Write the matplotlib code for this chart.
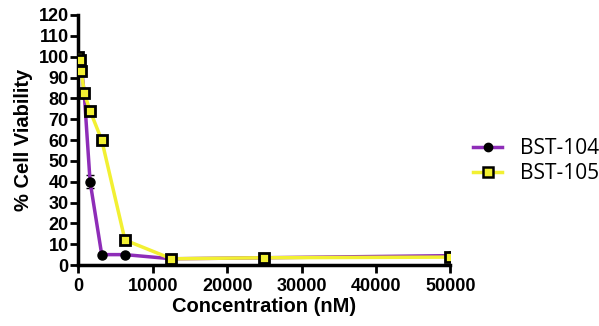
import matplotlib
matplotlib.use("Agg")
import matplotlib.pyplot as plt
from matplotlib.lines import Line2D

conc = [0, 195.3, 390.6, 781.25, 1562.5, 3125, 6250, 12500, 25000, 50000]
bst104 = [100, 99, 95, 82, 40, 5, 5, 3, 3.5, 4.5]
bst104_err = [1, 1, 1.5, 2, 3, 0.5, 0.5, 0.5, 0.5, 0.5]
bst105 = [100, 98.5, 93, 82.5, 74, 60, 12, 3, 3.5, 3.8]
bst105_err = [1, 1, 1, 1.5, 2, 1.5, 1, 0.5, 0.5, 0.5]
yticks = list(range(0, 121, 10))
xticks = [0, 10000, 20000, 30000, 40000, 50000]
labels = ["BST-104", "BST-105"]

purple = "#8E2DB8"
yellow = "#F2F032"

fig = plt.figure(figsize=(5.99, 3.26), dpi=100)
ax = fig.add_axes([0.131, 0.187, 0.621, 0.767])

ax.errorbar(conc, bst104, yerr=bst104_err, color=purple, lw=2.5,
            marker="o", ms=6.5, mfc="black", mec="black",
            ecolor="black", elinewidth=1.5, capsize=3, zorder=3)
ax.errorbar(conc, bst105, yerr=bst105_err, color=yellow, lw=2.5,
            marker="s", ms=7, mfc=yellow, mec="black", mew=2,
            ecolor="black", elinewidth=1.5, capsize=3, zorder=4)

ax.set_xlim(0, 50000)
ax.set_ylim(0, 120)
ax.set_xticks(xticks)
ax.set_yticks(yticks)
ax.spines["top"].set_visible(False)
ax.spines["right"].set_visible(False)
for s in ("left", "bottom"):
    ax.spines[s].set_linewidth(2.5)
ax.tick_params(width=2, length=6, direction="out")
for lab in ax.get_xticklabels() + ax.get_yticklabels():
    lab.set_fontweight("bold")
    lab.set_fontfamily("Liberation Sans")
    lab.set_fontsize(13)
ax.tick_params(axis="y", pad=1)
ax.tick_params(axis="x", pad=3)
ax.set_xlabel("Concentration (nM)", fontsize=14.5, fontweight="bold",
              family="Liberation Sans", labelpad=2)
ax.set_ylabel("% Cell Viability", fontsize=14.5, fontweight="bold",
              family="Liberation Sans", labelpad=4)

handles = [
    Line2D([], [], color=purple, lw=2.5, marker="o", ms=6, mfc="black", mec="black"),
    Line2D([], [], color=yellow, lw=2.5, marker="s", ms=6.5, mfc=yellow, mec="black", mew=1.8),
]
fig.legend(handles, labels, loc="center left", bbox_to_anchor=(0.79, 0.505),
           frameon=False, handlelength=1.4, labelspacing=0.2, handletextpad=0.85,
           borderpad=0, borderaxespad=0,
           prop={"family": "Open Sans", "size": 15})

fig.savefig("out.png", dpi=100)
